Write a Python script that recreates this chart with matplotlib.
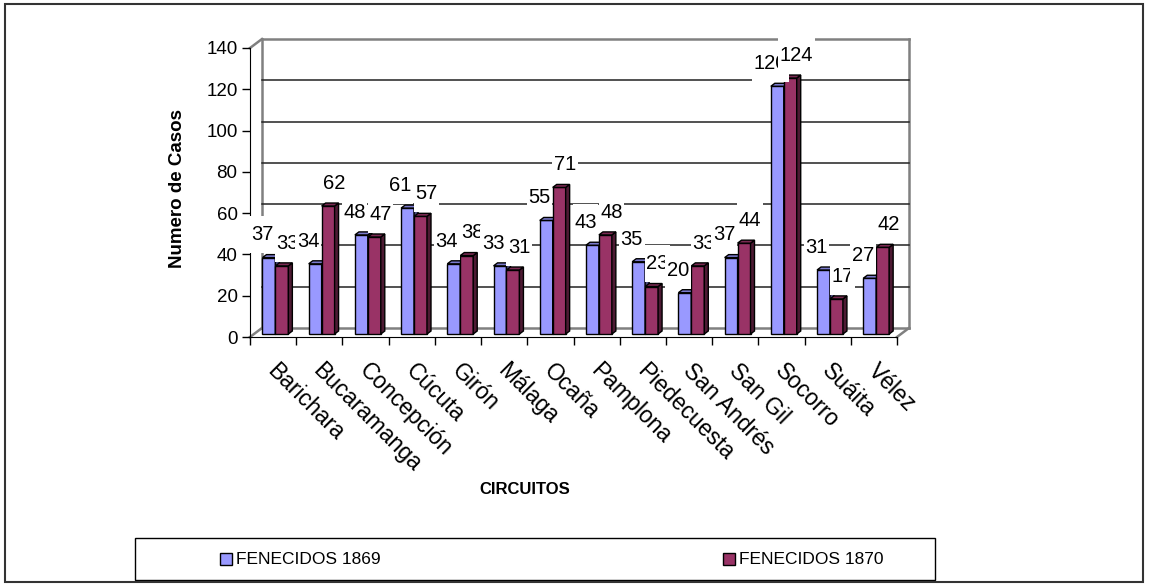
import matplotlib
matplotlib.use("Agg")
import matplotlib.pyplot as plt
from matplotlib.patches import Polygon, Rectangle
from matplotlib.path import Path

plt.rcParams['font.family'] = ['Liberation Sans', 'DejaVu Sans']

# data
circuitos = ["Barichara", "Bucaramanga", "Concepción", "Cúcuta", "Girón", "Málaga",
             "Ocaña", "Pamplona", "Piedecuesta", "San Andrés", "San Gil", "Socorro",
             "Suáita", "Vélez"]
fenecidos_1869 = [37, 34, 48, 61, 34, 33, 55, 43, 35, 20, 37, 120, 31, 27]
fenecidos_1870 = [33, 62, 47, 57, 38, 31, 71, 48, 23, 33, 44, 124, 17, 42]
series_names = ["FENECIDOS 1869", "FENECIDOS 1870"]
y_ticks = [0, 20, 40, 60, 80, 100, 120, 140]

front_colors = ["#9999FF", "#993366"]
side_colors = ["#4D4D80", "#4D1A33"]
top_colors = ["#7A7ACC", "#7A2952"]

W, H = 1149, 586
fig = plt.figure(figsize=(W / 100, H / 100), dpi=100)


def fig_xy(px, py):
    return px / W, 1 - py / H


def tall_box(x0, y0, width, height, mutation_size):
    # white label box, taller than wide (like the excel data labels)
    padx, pady = 0.08 * mutation_size, 0.45 * mutation_size
    xa, ya = x0 - padx, y0 - pady
    xb, yb = x0 + width + padx, y0 + height + pady
    return Path([(xa, ya), (xb, ya), (xb, yb), (xa, yb), (xa, ya)], closed=True)


# plot area in pixels
x0, x1, ytop, ybot = 250, 897, 48, 337
ax = fig.add_axes([x0 / W, 1 - ybot / H, (x1 - x0) / W, (ybot - ytop) / H])
n = len(circuitos)
ymax = y_ticks[-1]
ax.set_xlim(0, n)
ax.set_ylim(0, ymax)
ux = (x1 - x0) / n          # px per x unit
uy = (ybot - ytop) / ymax   # px per y unit

# 3d offsets (pixels -> data)
wdx, wdy = 12 / ux, 9 / uy
bdx, bdy = 4 / ux, 3 / uy
base = 3 / uy

# back wall + floor
gray = "#808080"
wall_lines = [
    [(wdx, wdy), (wdx, ymax + wdy)],
    [(wdx, ymax + wdy), (n + wdx, ymax + wdy)],
    [(n + wdx, wdy), (n + wdx, ymax + wdy)],
    [(wdx, wdy), (n + wdx, wdy)],
    [(0, 0), (wdx, wdy)],
    [(n, 0), (n + wdx, wdy)],
    [(0, ymax), (wdx, ymax + wdy)],
]
for seg in wall_lines:
    (xa, ya), (xb, yb) = seg
    ax.plot([xa, xb], [ya, yb], color=gray, lw=1.8, clip_on=False, zorder=1)
for t in y_ticks[1:-1]:
    ax.plot([wdx, n + wdx], [t + wdy, t + wdy], color="#222222", lw=1.1,
            clip_on=False, zorder=1)

# bars
bw = 0.28
offs = [0.27, 0.27 + bw]
for j, vals in enumerate([fenecidos_1869, fenecidos_1870]):
    xs = [i + offs[j] for i in range(n)]
    ax.bar(xs, vals, width=bw, bottom=base, align="edge", color=front_colors[j],
           edgecolor="black", lw=1, zorder=3 + j, clip_on=False)
    for xl, v in zip(xs, vals):
        xr = xl + bw
        top = base + v
        side = Polygon([(xr, base), (xr + bdx, base + bdy), (xr + bdx, top + bdy), (xr, top)],
                       closed=True, fc=side_colors[j], ec="black", lw=1, zorder=3 + j,
                       clip_on=False)
        lid = Polygon([(xl, top), (xl + bdx, top + bdy), (xr + bdx, top + bdy), (xr, top)],
                      closed=True, fc=top_colors[j], ec="black", lw=1, zorder=3 + j,
                      clip_on=False)
        ax.add_patch(side)
        ax.add_patch(lid)

# value labels
for i in range(n):
    for j, vals in enumerate([fenecidos_1869, fenecidos_1870]):
        v = vals[i]
        xc = i + offs[j] + bw / 2 + (-0.15 if j == 0 else 0.13)
        ax.text(xc, v + base + 11, str(v), ha="center", va="center", fontsize=14.5,
                zorder=10 + 2 * i + j, clip_on=False,
                bbox=dict(boxstyle=tall_box, fc="white", ec="none"))

# axes
for s in ["top", "right"]:
    ax.spines[s].set_visible(False)
ax.spines["left"].set_color("black")
ax.spines["bottom"].set_color("black")
ax.set_yticks(y_ticks)
ax.set_yticklabels([str(t) for t in y_ticks], fontsize=13.5)
ax.set_xticks(range(n + 1))
ax.set_xticklabels([])
ax.tick_params(direction="out", length=6, width=1, color="black", pad=3)
ax.patch.set_visible(False)

for i, name in enumerate(circuitos):
    ax.text(i + 0.62, -22 / uy, name, rotation=-45, rotation_mode="anchor",
            ha="left", va="top", fontsize=16.5, clip_on=False)

fig.text(*fig_xy(177, 188), "Numero de Casos", rotation=90, ha="center", va="center",
         fontsize=13.5, fontweight="bold")
fig.text(*fig_xy(525, 490), "CIRCUITOS", ha="center", va="center",
         fontsize=12, fontweight="bold")

# legend
lx0, ly0, lx1, ly1 = 135, 538, 935, 580
fig.patches.append(Rectangle(fig_xy(lx0, ly1), (lx1 - lx0) / W, (ly1 - ly0) / H,
                             transform=fig.transFigure, fill=False, ec="black", lw=1))
sq = 12
for j, name in enumerate(series_names):
    sx = [220, 723][j]
    cy = (ly0 + ly1) / 2
    fig.patches.append(Rectangle(fig_xy(sx, cy + sq / 2), sq / W, sq / H,
                                 transform=fig.transFigure, fc=front_colors[j],
                                 ec="black", lw=1))
    fig.text(*fig_xy(sx + sq + 4, cy), name, ha="left", va="center", fontsize=12.5)

# outer frame
fig.patches.append(Rectangle(fig_xy(5, 582), (1143 - 5) / W, (582 - 4) / H,
                             transform=fig.transFigure, fill=False, ec="#333333", lw=1.5))

fig.savefig("out.png", dpi=100)
